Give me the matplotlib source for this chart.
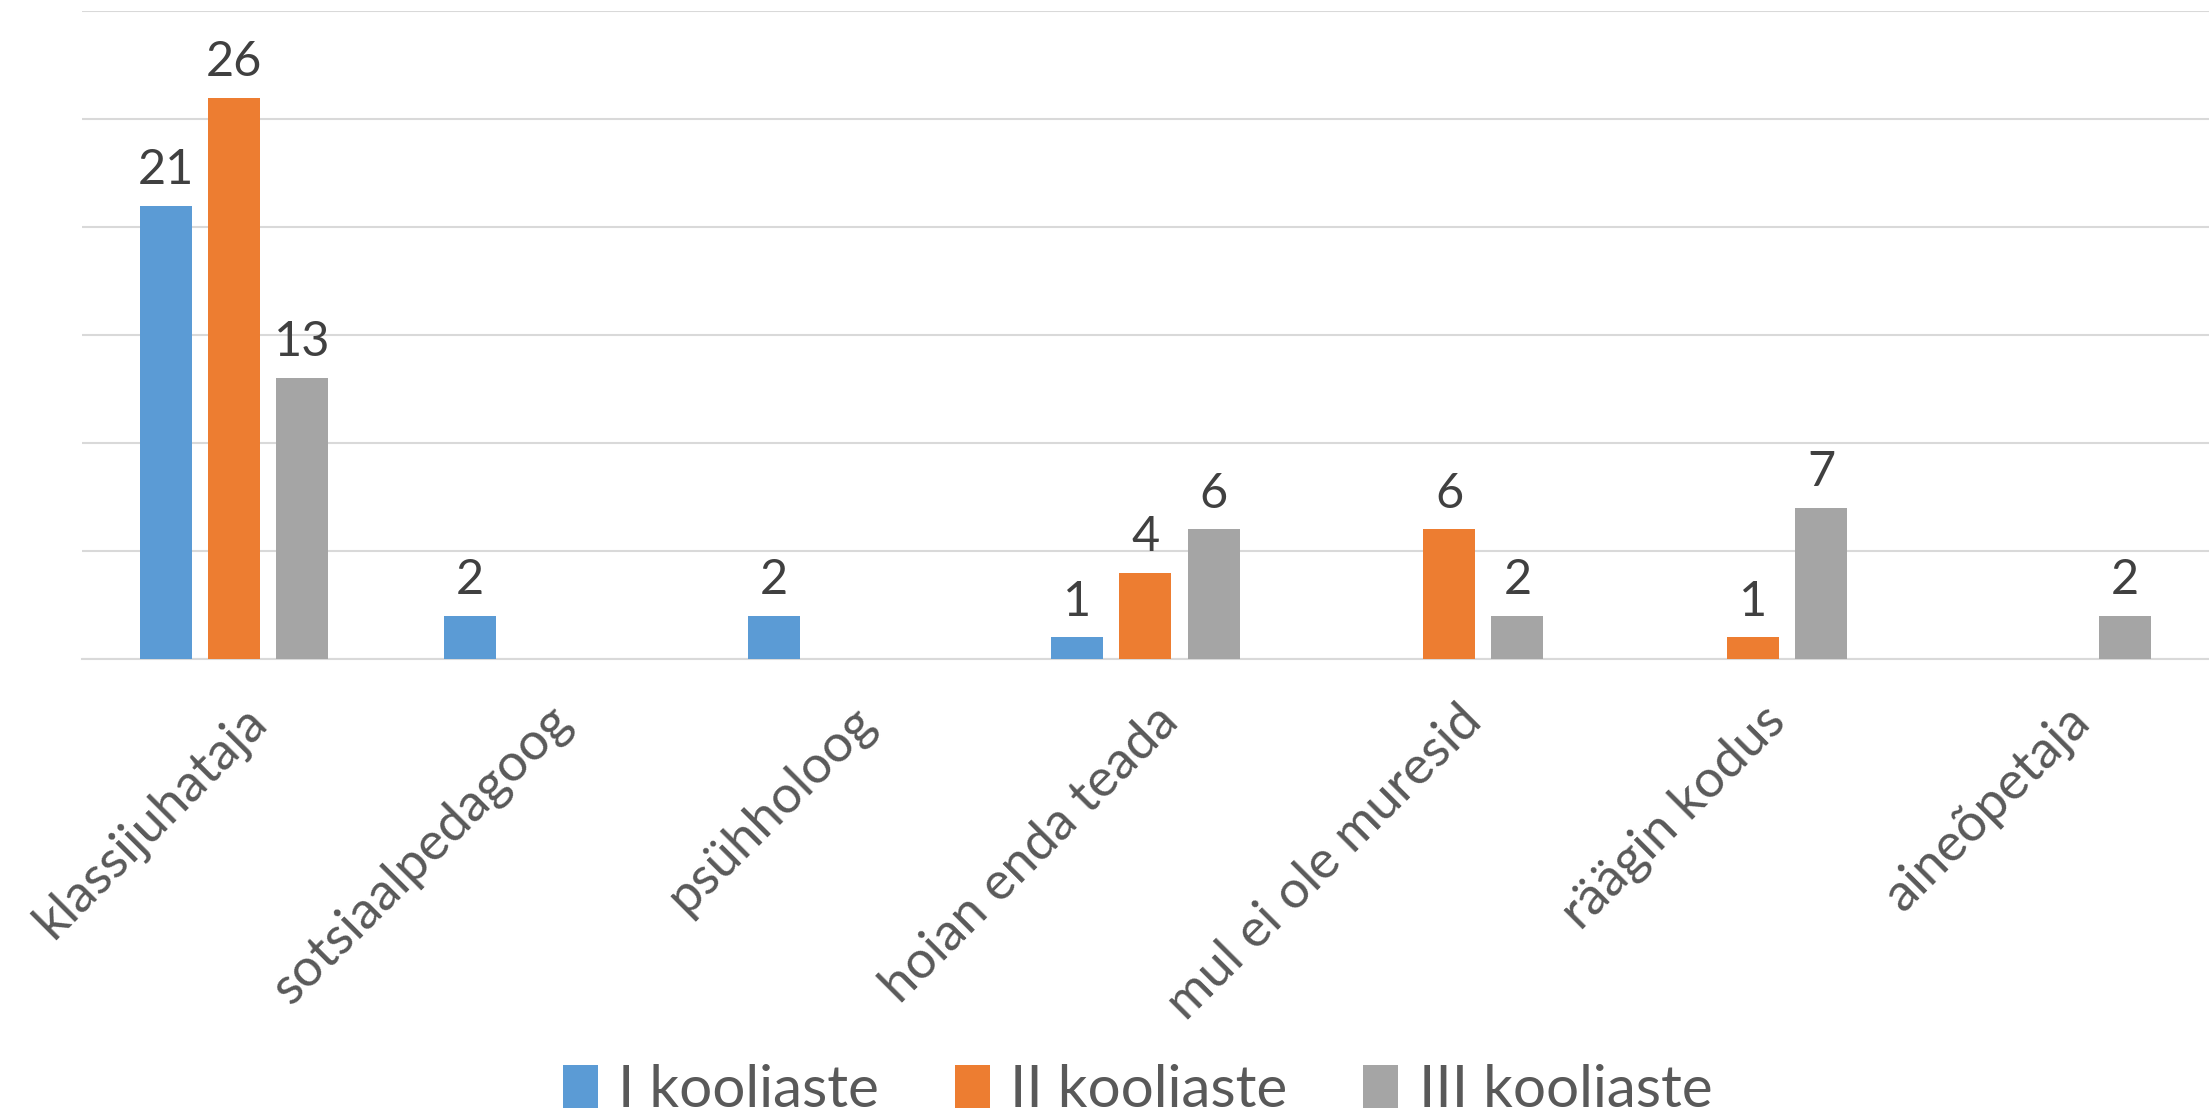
import numpy as np
import matplotlib
matplotlib.use('Agg')
import matplotlib.pyplot as plt
import matplotlib.transforms as mtransforms

# andmed
categories = ['klassijuhataja', 'sotsiaalpedagoog', 'psühholoog', 'hoian enda teada',
              'mul ei ole muresid', 'räägin kodus', 'aineõpetaja']
series_names = ['I kooliaste', 'II kooliaste', 'III kooliaste']
aste_1 = [21, 2, 2, 1, 0, 0, 0]
aste_2 = [26, 0, 0, 4, 6, 1, 0]
aste_3 = [13, 0, 0, 6, 2, 7, 2]
colors = ['#5B9BD5', '#ED7D31', '#A5A5A5']

plt.rcParams['font.family'] = ['Lato', 'DejaVu Sans']

fig = plt.figure(figsize=(22.09, 11.16), dpi=100)
ax = fig.add_axes([0.0371, 0.4095, 0.9629, 0.5805])

x = np.arange(len(categories))
bar_w = 0.171
step = 0.224
for i, (vals, name, col) in enumerate(zip([aste_1, aste_2, aste_3], series_names, colors)):
    pos = x + (i - 1) * step
    bars = ax.bar(pos, vals, width=bar_w, color=col, label=name, zorder=3)
    for b, v in zip(bars, vals):
        if v == 0:
            continue
        ax.annotate(str(v), (b.get_x() + b.get_width() / 2, v), xytext=(0, 10),
                    textcoords='offset points', ha='center', va='bottom',
                    fontsize=35, color='#404040')

ax.set_xlim(-0.5, len(categories) - 0.5)
ax.set_ylim(0, 30)
ax.set_yticks(np.arange(0, 31, 5))
ax.yaxis.grid(True, color='#d9d9d9', linewidth=1.5, zorder=0)
ax.tick_params(axis='y', left=False, labelleft=False)
ax.tick_params(axis='x', bottom=False, length=0)
for s in ['top', 'right', 'left']:
    ax.spines[s].set_visible(False)
ax.spines['bottom'].set_color('#d9d9d9')
ax.spines['bottom'].set_linewidth(1.5)

ax.set_xticks(x)
ax.set_xticklabels(categories, rotation=45, ha='right', va='center',
                   rotation_mode='anchor', fontsize=38, color='#595959')
offset = mtransforms.ScaledTranslation(18 / 72, -36 / 72, fig.dpi_scale_trans)
for lbl in ax.get_xticklabels():
    lbl.set_transform(lbl.get_transform() + offset)

ax.legend(loc='lower center', bbox_to_anchor=(0.515, -0.048), bbox_transform=fig.transFigure,
          ncol=3, frameon=False, fontsize=42, labelcolor='#595959',
          handlelength=0.6, handleheight=0.75, handletextpad=0.35, columnspacing=1.3)

fig.savefig('out.png', dpi=100)
